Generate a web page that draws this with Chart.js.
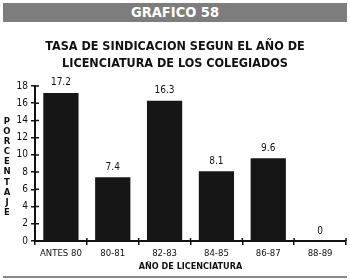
<!DOCTYPE html>
<html>
<head>
<meta charset="utf-8">
<script src="https://cdn.jsdelivr.net/npm/chart.js@4/dist/chart.umd.min.js"></script>
<style>
  html, body { margin: 0; padding: 0; background: #fff; }
  #wrap { position: relative; width: 350px; height: 280px; overflow: hidden;
          font-family: 'DejaVu Sans Condensed', 'Liberation Sans Narrow', sans-serif; }
  #head { position: absolute; left: 3px; top: 3px; width: 344px; height: 19px;
          background: #7d7d7d; color: #fff; font-weight: bold; font-size: 14.5px;
          line-height: 19px; text-align: center; }
  #title { position: absolute; left: 0; top: 37px; width: 350px; text-align: center;
           font-weight: bold; font-size: 12.5px; line-height: 17px; color: #111; }
  #ylab { position: absolute; left: 2px; top: 116px; width: 10px; text-align: center;
          font-weight: bold; font-size: 9.5px; line-height: 10.1px; color: #111; }
  #rule { position: absolute; left: 3px; top: 276px; width: 344px; height: 2px; background: #888; }
  canvas { position: absolute; left: 0; top: 0; }
</style>
</head>
<body>
<div id="wrap">
  <canvas id="chart" width="350" height="280"></canvas>
  <div id="head">GRAFICO 58</div>
  <div id="title">TASA DE SINDICACION SEGUN EL AÑO DE<br>LICENCIATURA DE LOS COLEGIADOS</div>
  <div id="ylab">P<br>O<br>R<br>C<br>E<br>N<br>T<br>A<br>J<br>E</div>
  <div id="rule"></div>
</div>
<script>
const fam = "'DejaVu Sans Condensed', 'Liberation Sans Narrow', sans-serif";

const categories = ['ANTES 80', '80-81', '82-83', '84-85', '86-87', '88-89'];
const values = [17.2, 7.4, 16.3, 8.1, 9.6, 0];
const valueLabels = ['17.2', '7.4', '16.3', '8.1', '9.6', '0'];

// labels above the bars
const barLabels = {
    id: 'barLabels',
    afterDatasetsDraw(chart) {
        const ctx = chart.ctx;
        const meta = chart.getDatasetMeta(0);
        ctx.save();
        ctx.font = '10px ' + fam;
        ctx.fillStyle = '#111';
        ctx.textAlign = 'center';
        ctx.textBaseline = 'bottom';
        meta.data.forEach((bar, i) => {
            ctx.fillText(valueLabels[i], bar.x, bar.y - 5);
        });
        ctx.restore();
    }
};

// the tick marks cross the axis lines, so add the inner half
const innerTicks = {
    id: 'innerTicks',
    afterDraw(chart) {
        const ctx = chart.ctx;
        const { x, y } = chart.scales;
        ctx.save();
        ctx.strokeStyle = '#111';
        ctx.lineWidth = 1.5;
        ctx.beginPath();
        y.ticks.forEach((t) => {
            const py = y.getPixelForValue(t.value);
            ctx.moveTo(y.right, py);
            ctx.lineTo(y.right + 4, py);
        });
        for (let i = 1; i <= categories.length; i++) {
            const px = x.getPixelForTick(i - 1) + (x.getPixelForTick(1) - x.getPixelForTick(0)) / 2;
            ctx.moveTo(px, x.top);
            ctx.lineTo(px, x.top - 3);
        }
        ctx.stroke();
        ctx.restore();
    }
};

new Chart(document.getElementById('chart'), {
    type: 'bar',
    data: {
        labels: categories,
        datasets: [{
            data: values,
            backgroundColor: '#161616',
            categoryPercentage: 0.68,
            barPercentage: 1
        }]
    },
    options: {
        responsive: false,
        animation: false,
        layout: { padding: { top: 86, left: 0, right: 4, bottom: 0 } },
        plugins: { legend: { display: false }, tooltip: { enabled: false } },
        scales: {
            y: {
                min: 0,
                max: 18,
                ticks: { stepSize: 2, color: '#111', font: { family: fam, size: 10 }, padding: 3 },
                grid: { drawOnChartArea: false, tickLength: 4, color: '#111', lineWidth: 1.5 },
                border: { color: '#111', width: 2 },
                afterFit(scale) { scale.width = 35; }
            },
            x: {
                offset: true,
                ticks: { color: '#111', font: { family: fam, size: 9.5 }, padding: 3, maxRotation: 0 },
                grid: { offset: true, drawOnChartArea: false, tickLength: 4, color: '#111', lineWidth: 1.5 },
                border: { color: '#111', width: 2 },
                title: {
                    display: true,
                    text: 'AÑO DE LICENCIATURA',
                    color: '#111',
                    font: { family: fam, size: 9, weight: 'bold' },
                    padding: { top: 0, bottom: 8 }
                },
                afterFit(scale) { scale.height = 39; }
            }
        }
    },
    plugins: [barLabels, innerTicks]
});
</script>
</body>
</html>
